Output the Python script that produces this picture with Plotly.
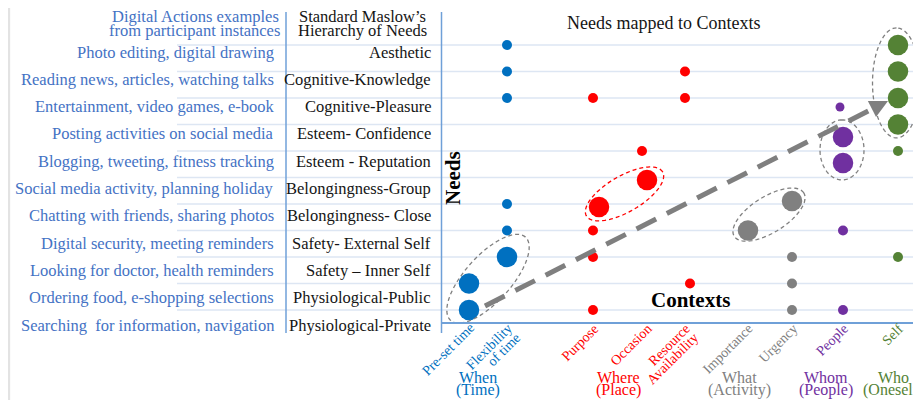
import numpy as np
import plotly.graph_objects as go

# ---------------- data ----------------
needs = ["Physiological-Private", "Physiological-Public", "Safety \u2013 Inner Self",
         "Safety- External Self", "Belongingness- Close", "Belongingness-Group",
         "Esteem - Reputation", "Esteem- Confidence", "Cognitive-Pleasure",
         "Cognitive-Knowledge", "Aesthetic"]
actions = ["Searching\u00a0 for information, navigation", "Ordering food, e-shopping selections",
           "Looking for doctor, health reminders", "Digital security, meeting reminders",
           "Chatting with friends, sharing photos", "Social media activity, planning holiday",
           "Blogging, tweeting, fitness tracking", "Posting activities on social media",
           "Entertainment, video games, e-book", "Reading news, articles, watching talks",
           "Photo editing, digital drawing"]

contexts = ["Pre-set time", "Flexibility<br>of time", "Purpose", "Occasion",
            "Resource<br>Availability", "Importance", "Urgency", "People", "Self"]
context_pos = [0.56, 1.32, 3.04, 4.12, 4.88, 6.14, 7.02, 8.04, 9.14]
context_group = [0, 0, 1, 1, 1, 2, 2, 3, 4]

groups = ["When", "Where", "What", "Whom", "Who"]
group_sub = ["(Time)", "(Place)", "(Activity)", "(People)", "(Oneself)"]
group_x = [0.74, 3.54, 5.96, 7.70, 9.04]
colors = ["#0070C0", "#FF0000", "#808080", "#7030A0", "#548235"]

# points: x (context position), y (need level), weight (1 = few, 2 = many)
when_x = [0.56, 0.56, 1.32, 1.32, 1.32, 1.32, 1.32, 1.32]
when_y = [0, 1, 10, 9, 8, 4, 3, 2]
when_w = [2, 2, 1, 1, 1, 1, 1, 2]

where_x = [3.04, 3.16, 3.04, 3.04, 3.04, 4.02, 4.12, 4.88, 4.88, 4.98]
where_y = [8, 3.89, 3, 2, 0, 6, 4.91, 9, 8, 1]
where_w = [1, 2, 1, 1, 1, 1, 2, 1, 1, 1]

what_x = [6.14, 7.02, 7.02, 7.02, 7.02]
what_y = [3, 4.11, 2, 1, 0]
what_w = [2, 2, 1, 1, 1]

whom_x = [7.98, 8.04, 8.04, 8.04, 8.04]
whom_y = [7.66, 6.53, 5.55, 3, 0]
whom_w = [0.9, 2, 2, 1, 1]

who_x = [9.14, 9.14, 9.14, 9.14, 9.14, 9.14]
who_y = [10, 9, 8, 7, 6, 2]
who_w = [2, 2, 2, 2, 1, 1]

series = [(when_x, when_y, when_w), (where_x, where_y, where_w), (what_x, what_y, what_w),
          (whom_x, whom_y, whom_w), (who_x, who_y, who_w)]

# ---------------- layout helpers (page has an 8px body margin) ----------------
OX, OY = 8, 8
W, H = 913, 392


def X(rx):
    return (rx - OX) / W


def Y(ry):
    return 1 - (ry - OY) / H


XR = [0, 9.6]
YR = [-0.453, 11.245]
XD = [X(441), 1.0]
YD = [Y(322), Y(12)]
PX_X = (XD[1] - XD[0]) * W / (XR[1] - XR[0])
PX_Y = (YD[1] - YD[0]) * H / (YR[1] - YR[0])
X0PX = 441


def row_label_y(i):
    # text rows are spaced slightly wider than the plot rows
    return Y(325 - 27.3 * i)


SERIF = "Liberation Serif, Times New Roman, serif"
BLUE_TXT = "#4472C4"
GRID = "#dde6f3"
AXIS = "#6fa0d8"
TXT = "#151515"

fig = go.Figure()

for (xs, ys, ws), c in zip(series, colors):
    fig.add_trace(go.Scatter(
        x=xs, y=ys, mode="markers",
        marker=dict(size=[10 + (w - 1) * 10.5 for w in ws], color=c, opacity=1, line=dict(width=0)),
        hoverinfo="skip", showlegend=False))

# dashed trend arrow
arrow_start = (0.88, 0.15)
arrow_tip = (8.94, 7.89)
ux = (arrow_tip[0] - arrow_start[0]) * PX_X
uy = (arrow_tip[1] - arrow_start[1]) * PX_Y
L = np.hypot(ux, uy)
back = 13
line_end = (arrow_tip[0] - ux / L * back / PX_X, arrow_tip[1] - uy / L * back / PX_Y)
fig.add_trace(go.Scatter(
    x=[arrow_start[0], line_end[0]], y=[arrow_start[1], line_end[1]], mode="lines",
    line=dict(color="#7f7f7f", width=5, dash="22px,12px"), hoverinfo="skip", showlegend=False))

shapes = []
# grid lines spanning the text columns and the plot
for i in range(len(needs)):
    shapes.append(dict(type="line", xref="paper", yref="y", x0=X(177), x1=1, y0=i, y1=i,
                       line=dict(color=GRID, width=1.3), layer="below"))
# vertical dividers
for xv in [X(286), X(441.5)]:
    shapes.append(dict(type="line", xref="paper", yref="paper", x0=xv, x1=xv,
                       y0=Y(333), y1=Y(12), line=dict(color=AXIS, width=1.5)))
# frame (left edge)
shapes.append(dict(type="line", xref="paper", yref="paper", x0=0.001, x1=0.001, y0=0, y1=1,
                   line=dict(color="#e3e3e3", width=2.5), layer="below"))


def ellipse_path(cx, cy, a, b, ang):
    t = np.linspace(0, 2 * np.pi, 90)
    th = np.radians(ang)
    ex = a * np.cos(t) * np.cos(th) - b * np.sin(t) * np.sin(th)
    ey = a * np.cos(t) * np.sin(th) + b * np.sin(t) * np.cos(th)
    xs = cx + ex / PX_X
    ys = cy + ey / PX_Y
    return "M " + " L ".join(f"{x:.4f},{y:.4f}" for x, y in zip(xs, ys)) + " Z"


ellipses = [  # centre x, centre y, semi-axes (px), angle, colour
    (0.94, 1.18, 56, 23, 48, "#808080"),
    (3.67, 4.38, 44, 18, 30, "#FF0000"),
    (6.56, 3.60, 41, 18, 32, "#808080"),
    (8.02, 6.04, 30, 22, 90, "#808080"),
    (9.11, 8.57, 55, 24, 90, "#808080"),
]
for cx, cy, a, b, ang, c in ellipses:
    shapes.append(dict(type="path", xref="x", yref="y", path=ellipse_path(cx, cy, a, b, ang),
                       line=dict(color=c, width=1.3, dash="4px,3px")))

ann = []
FS = 16.5


def text_ann(text, x, y, size, color, xanchor="center", xref="paper", **kw):
    return dict(text=text, x=x, y=y, xref=xref, yref="paper", xanchor=xanchor, yanchor="middle",
                showarrow=False, font=dict(family=SERIF, size=size, color=color), **kw)


# header texts
ann.append(text_ann("Digital Actions examples", X(281), Y(16), FS, BLUE_TXT, "right"))
ann.append(text_ann("from participant instances", X(282), Y(31), FS, BLUE_TXT, "right"))
ann.append(text_ann("Standard Maslow\u2019s", X(362), Y(16), FS, TXT))
ann.append(text_ann("Hierarchy of Needs", X(362), Y(30), FS, TXT))
# row labels
for i, (a_txt, n_txt) in enumerate(zip(actions, needs)):
    ann.append(text_ann(a_txt, X(276), row_label_y(i), FS, BLUE_TXT, "right"))
    ann.append(text_ann(n_txt, X(433), row_label_y(i), FS, TXT, "right"))
# title & axis names
ann.append(text_ann("Needs mapped to Contexts", X(663), Y(23), 18, TXT))
ann.append(text_ann("<b>Needs</b>", X(453), Y(178), 21, "#000", textangle=-90))
ann.append(text_ann("<b>Contexts</b>", 4.98, Y(300), 21, "#000", xref="x"))
# rotated context labels (one annotation per line)
for ctx, pos, g in zip(contexts, context_pos, context_group):
    end_x = X0PX + pos * PX_X + 5
    for j, line in enumerate(ctx.split("<br>")):
        ex = end_x + j * 8.5
        ey = 324 + j * 9.5
        ann.append(dict(text=line, x=X(ex + 6), y=Y(ey - 6), xref="paper", yref="paper",
                        xanchor="right", yanchor="top", textangle=-45, showarrow=False,
                        font=dict(family=SERIF, size=14, color=colors[g])))
# group labels
for g, s, gx, c in zip(groups, group_sub, group_x, colors):
    ann.append(text_ann(g, gx, Y(377), 16, c, xref="x"))
    ann.append(text_ann(s, gx, Y(390), 16, c, xref="x"))
# arrow head
ann.append(dict(x=arrow_tip[0], y=arrow_tip[1], ax=line_end[0] - ux / L * 2 / PX_X,
                ay=line_end[1] - uy / L * 2 / PX_Y, xref="x", yref="y", axref="x", ayref="y",
                text="", showarrow=True, arrowhead=2, arrowsize=0.9, arrowwidth=4, arrowcolor="#7f7f7f"))

fig.update_layout(
    template="none",
    width=W, height=H, margin=dict(l=0, r=0, t=0, b=0, pad=0), autosize=False,
    paper_bgcolor="white", plot_bgcolor="white", showlegend=False,
    xaxis=dict(domain=XD, range=XR, tickvals=context_pos, showticklabels=False,
               showgrid=False, zeroline=False, automargin=False,
               showline=True, linecolor=AXIS, linewidth=1.5, ticks=""),
    yaxis=dict(domain=YD, range=YR, showgrid=False, zeroline=False, showticklabels=False,
               showline=False, ticks="", automargin=False),
    shapes=shapes, annotations=ann,
)

fig.write_html("out.html")
